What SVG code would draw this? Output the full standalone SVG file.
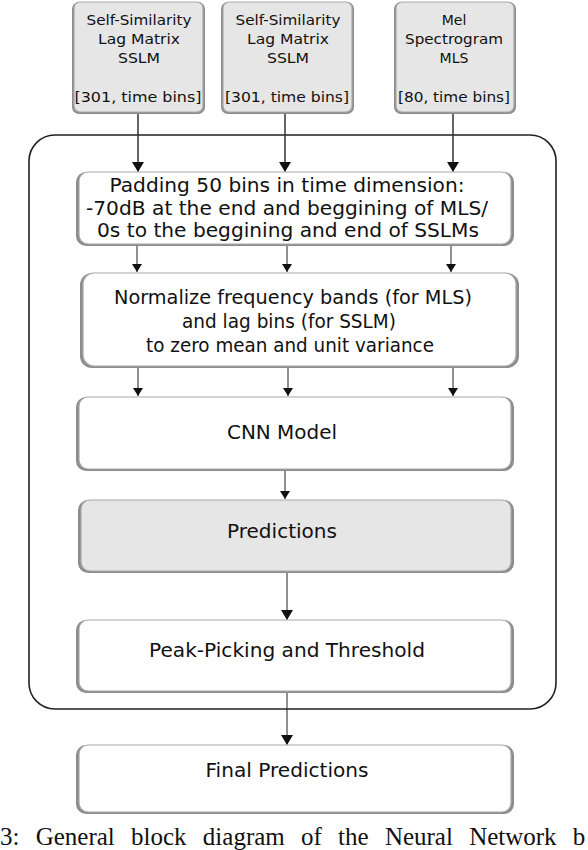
<svg xmlns="http://www.w3.org/2000/svg" width="588" height="850" viewBox="0 0 588 850">
<defs>
<marker id="ah" markerWidth="10" markerHeight="12" refX="9" refY="6" orient="auto" markerUnits="userSpaceOnUse">
<path d="M0,0 L10,6 L0,12 Z" fill="#111"/>
</marker>
<marker id="ahs" markerWidth="8" markerHeight="10" refX="8" refY="5" orient="auto" markerUnits="userSpaceOnUse">
<path d="M0,0 L8,5 L0,10 Z" fill="#111"/>
</marker>
<style>
.sh{fill:#8c8c8c;}
.bx{fill:#ffffff;stroke:#a8a8a8;stroke-width:1.2;}
.gb{fill:#e6e6e6;stroke:#a8a8a8;stroke-width:1.2;}
.t{font-family:"DejaVu Sans","Noto Sans",sans-serif;fill:#111;text-anchor:middle;}
.s{font-size:14px;}
.m{font-size:19px;}
.c{stroke:#333;stroke-width:1.5;fill:none;}
.cs{stroke:#222;stroke-width:1;fill:none;}
</style>
</defs>
<rect width="588" height="850" fill="#ffffff"/>

<g id="container">
<rect x="29" y="135" width="527" height="574" rx="26" fill="none" stroke="#222" stroke-width="1.6"/>
</g>

<g id="in1">
<rect class="sh" x="72" y="2" width="133" height="112" rx="7"/>
<rect class="gb" x="74" y="2" width="129" height="110" rx="6"/>
<text class="t s" x="139" y="25" textLength="105" lengthAdjust="spacingAndGlyphs">Self-Similarity</text>
<text class="t s" x="139" y="44" textLength="82" lengthAdjust="spacingAndGlyphs">Lag Matrix</text>
<text class="t s" x="139" y="63" textLength="42" lengthAdjust="spacingAndGlyphs">SSLM</text>
<text class="t s" x="138" y="102" textLength="127" lengthAdjust="spacingAndGlyphs">[301, time bins]</text>
</g>
<g id="in2">
<rect class="sh" x="221" y="2" width="133" height="112" rx="7"/>
<rect class="gb" x="223" y="2" width="129" height="110" rx="6"/>
<text class="t s" x="288" y="25" textLength="105" lengthAdjust="spacingAndGlyphs">Self-Similarity</text>
<text class="t s" x="288" y="44" textLength="82" lengthAdjust="spacingAndGlyphs">Lag Matrix</text>
<text class="t s" x="288" y="63" textLength="42" lengthAdjust="spacingAndGlyphs">SSLM</text>
<text class="t s" x="287" y="102" textLength="124" lengthAdjust="spacingAndGlyphs">[301, time bins]</text>
</g>
<g id="in3">
<rect class="sh" x="394" y="2" width="122" height="112" rx="7"/>
<rect class="gb" x="396" y="2" width="118" height="110" rx="6"/>
<text class="t s" x="454" y="25">Mel</text>
<text class="t s" x="454" y="44" textLength="98" lengthAdjust="spacingAndGlyphs">Spectrogram</text>
<text class="t s" x="454" y="63">MLS</text>
<text class="t s" x="454" y="102" textLength="112" lengthAdjust="spacingAndGlyphs">[80, time bins]</text>
</g>

<g id="padding">
<rect class="sh" x="76" y="172" width="438" height="74" rx="10"/>
<rect class="bx" x="79" y="172" width="432" height="72" rx="9"/>
<text class="t m" x="287" y="192" textLength="355" lengthAdjust="spacingAndGlyphs">Padding 50 bins in time dimension:</text>
<text class="t m" x="287" y="215" textLength="402" lengthAdjust="spacingAndGlyphs">-70dB at the end and beggining of MLS/</text>
<text class="t m" x="288" y="237" textLength="382" lengthAdjust="spacingAndGlyphs">0s to the beggining and end of SSLMs</text>
</g>

<g id="normalize">
<rect class="sh" x="80" y="273" width="439" height="95" rx="12"/>
<rect class="bx" x="83" y="273" width="433" height="93" rx="11"/>
<text class="t m" x="293" y="304" textLength="358" lengthAdjust="spacingAndGlyphs">Normalize frequency bands (for MLS)</text>
<text class="t m" x="289" y="328" textLength="214" lengthAdjust="spacingAndGlyphs">and lag bins (for SSLM)</text>
<text class="t m" x="290" y="352" textLength="288" lengthAdjust="spacingAndGlyphs">to zero mean and unit variance</text>
</g>

<g id="cnn">
<rect class="sh" x="76" y="397" width="438" height="74" rx="10"/>
<rect class="bx" x="79" y="397" width="432" height="72" rx="9"/>
<text class="t m" x="282" y="439" textLength="110" lengthAdjust="spacingAndGlyphs">CNN Model</text>
</g>

<g id="predictions">
<rect class="sh" x="78" y="500" width="436" height="73" rx="10"/>
<rect class="gb" x="81" y="500" width="430" height="71" rx="9"/>
<text class="t m" x="282" y="538" textLength="110" lengthAdjust="spacingAndGlyphs">Predictions</text>
</g>

<g id="peak">
<rect class="sh" x="76" y="620" width="438" height="73" rx="10"/>
<rect class="bx" x="79" y="620" width="432" height="71" rx="9"/>
<text class="t m" x="287" y="657" textLength="276" lengthAdjust="spacingAndGlyphs">Peak-Picking and Threshold</text>
</g>

<g id="final">
<rect class="sh" x="76" y="745" width="438" height="69" rx="10"/>
<rect class="bx" x="79" y="745" width="432" height="67" rx="9"/>
<text class="t m" x="287" y="777" textLength="163" lengthAdjust="spacingAndGlyphs">Final Predictions</text>
</g>

<g id="connectors">
<line class="c" x1="138" y1="114" x2="138" y2="171" marker-end="url(#ah)"/>
<line class="c" x1="285" y1="114" x2="285" y2="171" marker-end="url(#ah)"/>
<line class="c" x1="453" y1="114" x2="453" y2="171" marker-end="url(#ah)"/>
<line class="cs" x1="137" y1="246" x2="137" y2="272" marker-end="url(#ahs)"/>
<line class="cs" x1="287" y1="246" x2="287" y2="272" marker-end="url(#ahs)"/>
<line class="cs" x1="451" y1="246" x2="451" y2="272" marker-end="url(#ahs)"/>
<line class="cs" x1="138" y1="368" x2="138" y2="396" marker-end="url(#ahs)"/>
<line class="cs" x1="288" y1="368" x2="288" y2="396" marker-end="url(#ahs)"/>
<line class="cs" x1="453" y1="368" x2="453" y2="396" marker-end="url(#ahs)"/>
<line class="cs" x1="285" y1="471" x2="285" y2="499" marker-end="url(#ahs)"/>
<line class="cs" x1="287" y1="573" x2="287" y2="619" marker-end="url(#ah)"/>
<line class="cs" x1="287" y1="693" x2="287" y2="744" marker-end="url(#ah)"/>
</g>

<text x="0" y="845" font-family="Liberation Serif, serif" font-size="25" fill="#111" word-spacing="10">3: General block diagram of the Neural Network b</text>
</svg>
